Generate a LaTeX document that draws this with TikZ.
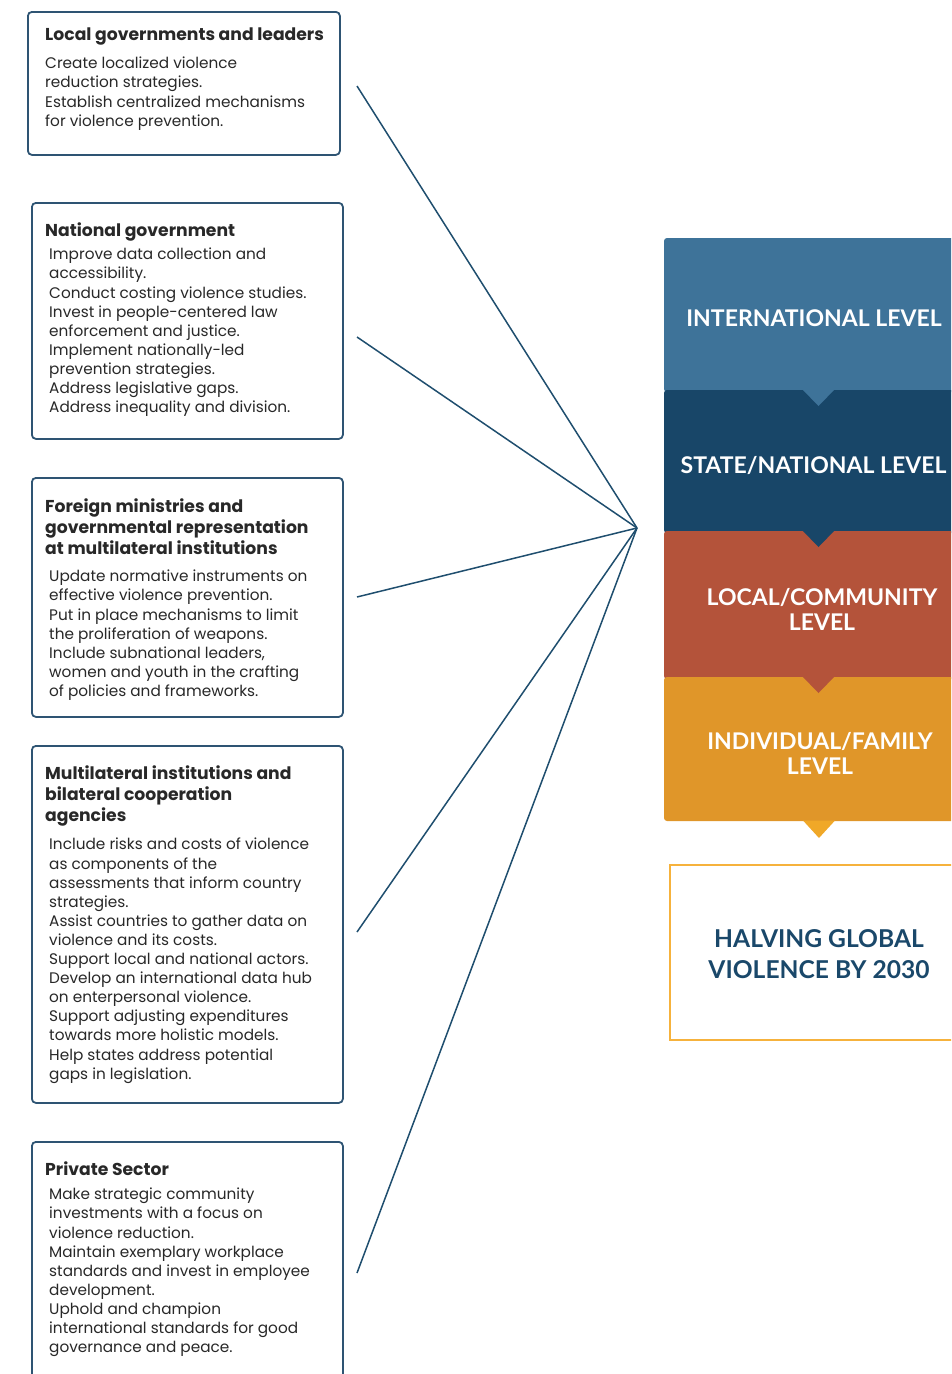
\documentclass[tikz,border=0pt]{standalone}
\usepackage{fontspec}
\setmainfont{Poppins}
\newfontfamily\lvlfont{Lato}
\definecolor{boxc}{RGB}{46,84,115}
\definecolor{linec}{RGB}{31,78,110}
\definecolor{txtc}{RGB}{40,40,40}
\definecolor{intc}{RGB}{62,115,153}
\definecolor{statec}{RGB}{24,70,104}
\definecolor{localc}{RGB}{180,83,58}
\definecolor{indc}{RGB}{224,150,41}
\definecolor{indchev}{RGB}{240,168,40}
\definecolor{goalc}{RGB}{246,178,60}
\definecolor{goaltxt}{RGB}{26,72,106}
\begin{document}
\begin{tikzpicture}[x=1pt,y=-1pt,
  box/.style={draw=boxc, line width=1.8pt, rounded corners=4pt, fill=white, inner sep=0pt, anchor=north west},
  ttl/.style={anchor=north west, inner sep=0pt, align=left, text=txtc, font=\fontsize{17.2}{20.7}\selectfont\bfseries},
  bdy/.style={anchor=north west, inner sep=0pt, align=left, text=txtc, font=\fontsize{15.3}{19.1}\selectfont},
  conn/.style={draw=linec, line width=1.5pt},
  lvltxt/.style={inner sep=0pt, align=center, text=white, font=\lvlfont\fontsize{23}{25}\selectfont\bfseries},
  goaltext/.style={inner sep=0pt, align=center, text=goaltxt, font=\lvlfont\fontsize{24.6}{31}\selectfont\bfseries}
]
\path[use as bounding box] (0,0) rectangle (951,1374);
\clip (0,0) rectangle (951,1374);

% boxes
\node[box, minimum width=312pt, minimum height=143pt] (b1) at (27,11) {};
\node[box, minimum width=311pt, minimum height=236pt] (b2) at (31,202) {};
\node[box, minimum width=311pt, minimum height=239pt] (b3) at (31,477) {};
\node[box, minimum width=311pt, minimum height=357pt] (b4) at (31,745) {};
\node[box, minimum width=311pt, minimum height=270pt] (b5) at (31,1141) {};

\node[ttl] (t1) at (45,28) {Local governments and leaders};
\node[bdy] (d1) at (45,57) {Create localized violence\\reduction strategies.\\Establish centralized mechanisms\\for violence prevention.};

\node[ttl] (t2) at (45,223) {National government};
\node[bdy] (d2) at (49,248) {Improve data collection and\\accessibility.\\Conduct costing violence studies.\\Invest in people-centered law\\enforcement and justice.\\Implement nationally-led\\prevention strategies.\\Address legislative gaps.\\Address inequality and division.};

\node[ttl] (t3) at (45,499) {Foreign ministries and\\governmental representation\\at multilateral institutions};
\node[bdy] (d3) at (49,570) {Update normative instruments on\\effective violence prevention.\\Put in place mechanisms to limit\\the proliferation of weapons.\\Include subnational leaders,\\women and youth in the crafting\\of policies and frameworks.};

\node[ttl] (t4) at (45,766) {Multilateral institutions and\\bilateral cooperation\\agencies};
\node[bdy] (d4) at (49,838) {Include risks and costs of violence\\as components of the\\assessments that inform country\\strategies.\\Assist countries to gather data on\\violence and its costs.\\Support local and national actors.\\Develop an international data hub\\on enterpersonal violence.\\Support adjusting expenditures\\towards more holistic models.\\Help states address potential\\gaps in legislation.};

\node[ttl] (t5) at (45,1162) {Private Sector};
\node[bdy] (d5) at (49,1188) {Make strategic community\\investments with a focus on\\violence reduction.\\Maintain exemplary workplace\\standards and invest in employee\\development.\\Uphold and champion\\international standards for good\\governance and peace.};

% connectors
\coordinate (s1) at (357,86);
\coordinate (s2) at (357,337);
\coordinate (s3) at (357,597);
\coordinate (s4) at (357,932);
\coordinate (s5) at (357,1273);
\coordinate (hub) at (637,528);
\foreach \s in {s1,s2,s3,s4,s5} \draw[conn] (\s) -- (hub);

% level blocks
\fill[intc, rounded corners=3pt] (664,238) rectangle (975,392);
\fill[statec, rounded corners=3pt] (664,390) rectangle (975,533);
\fill[intc] (802,389) -- (835,389) -- (818.5,406) -- cycle;
\fill[localc, rounded corners=3pt] (664,531) rectangle (975,679);
\fill[statec] (802,530) -- (835,530) -- (818.5,547) -- cycle;
\fill[indc, rounded corners=3pt] (664,677) rectangle (975,821);
\fill[localc] (802,676) -- (835,676) -- (818.5,693) -- cycle;
\fill[indchev] (803,820.5) -- (835,820.5) -- (819,838) -- cycle;

\node[lvltxt] (l1) at (814,318) {INTERNATIONAL LEVEL};
\node[lvltxt] (l2) at (813.5,465) {STATE/NATIONAL LEVEL};
\node[lvltxt] (l3) at (822,609.5) {LOCAL/COMMUNITY\\LEVEL};
\node[lvltxt] (l4) at (820,753.5) {INDIVIDUAL/FAMILY\\LEVEL};

% goal
\node[draw=goalc, line width=2pt, minimum width=320pt, minimum height=175pt, anchor=north west, inner sep=0pt] (goal) at (669,864) {};
\node[goaltext] (gt) at (819,954.5) {HALVING GLOBAL\\VIOLENCE BY 2030};
\end{tikzpicture}
\end{document}
